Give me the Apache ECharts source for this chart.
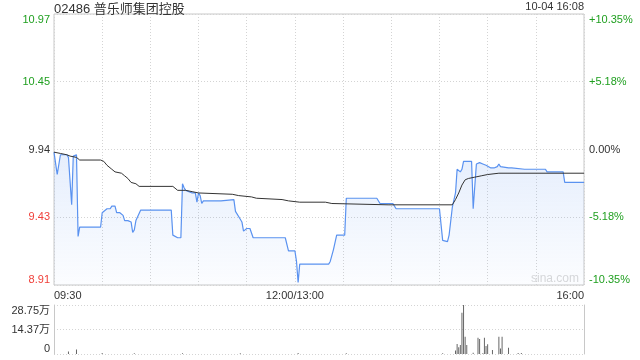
<!DOCTYPE html>
<html><head><meta charset="utf-8">
<script src="https://cdn.jsdelivr.net/npm/echarts@6/dist/echarts.min.js"></script>
<style>html,body{margin:0;padding:0;background:#fff}#c{width:640px;height:360px}</style>
</head><body><div id="c"></div>
<script>
const titleText = '02486 普乐师集团控股';
const dateText = '10-04 16:08';
const watermarkText = 'sina.com';
const prevClose = 9.94;
const pctRange = 10.35;
const priceTickLabels = ['8.91', '9.43', '9.94', '10.45', '10.97'];
const pctTickLabels = ['-10.35%', '-5.18%', '0.00%', '+5.18%', '+10.35%'];
const volTickLabels = ['0', '14.37万', '28.75万'];
const volMax = 287500;
const timeTickMinutes = [0, 150, 330];
const timeTickLabels = ['09:30', '12:00/13:00', '16:00'];

// minutes since 09:30 (lunch break removed)
const priceMinutes = [0,1,2,3,4,8,9,10,11,12,13,14,15,16,29,30,31,33,35,36,38,39,41,43,44,46,48,49,50,51,52,54,73,74,77,79,80,81,82,84,86,88,89,90,91,92,93,104,105,112,113,114,116,117,118,120,122,123,124,141,142,144,145,146,150,151,152,153,171,172,174,176,181,182,201,203,211,213,240,242,243,245,246,247,248,250,251,252,253,254,255,260,261,262,263,265,267,268,269,270,272,274,275,276,277,278,283,285,293,306,307,317,318,330];
const priceValues = [9.92,9.91,9.75,9.75,9.90,9.90,9.88,9.88,9.52,9.89,9.90,9.90,9.28,9.35,9.35,9.46,9.47,9.49,9.49,9.51,9.51,9.46,9.46,9.44,9.40,9.40,9.39,9.31,9.33,9.40,9.41,9.48,9.48,9.29,9.27,9.27,9.68,9.65,9.63,9.62,9.61,9.61,9.54,9.61,9.59,9.53,9.55,9.55,9.56,9.56,9.47,9.46,9.41,9.39,9.32,9.34,9.34,9.35,9.27,9.27,9.26,9.27,9.26,9.17,9.17,9.09,8.93,9.07,9.07,9.09,9.18,9.29,9.29,9.57,9.57,9.53,9.53,9.49,9.49,9.25,9.24,9.24,9.29,9.30,9.50,9.61,9.79,9.78,9.77,9.79,9.85,9.85,9.49,9.49,9.83,9.84,9.83,9.83,9.82,9.81,9.80,9.80,9.81,9.81,9.83,9.81,9.80,9.80,9.79,9.79,9.77,9.77,9.69,9.69];
const avgMinutes = [0,4,8,10,14,16,29,31,33,36,38,42,44,46,48,51,53,74,77,82,86,90,111,115,123,126,142,146,153,169,173,208,248,250,252,254,256,258,262,266,270,277,330];
const avgValues = [9.92,9.91,9.90,9.89,9.88,9.86,9.86,9.85,9.82,9.79,9.77,9.76,9.74,9.72,9.69,9.68,9.66,9.66,9.63,9.63,9.62,9.61,9.60,9.59,9.58,9.57,9.56,9.55,9.54,9.54,9.53,9.52,9.52,9.56,9.61,9.67,9.71,9.72,9.73,9.74,9.75,9.76,9.76];
const volMinutes = [9,14,30,50,80,116,152,182,242,250,251,252,253,254,255,256,257,261,264,265,267,268,269,270,273,277,278,279,283,289,291];
const volValues = [14000,27000,6000,4000,5000,4000,6000,5000,5000,20000,59000,39000,53000,242000,287500,101000,53000,8000,96000,88000,5000,96000,47000,57000,23000,101000,33000,101000,37000,6000,6000];

const FONT = 'Arial, "Liberation Sans", "Noto Sans CJK SC", sans-serif';
const GREEN = '#1f9f1f', RED = '#f0403a', DARK = '#333';
const pMin = prevClose * (1 - pctRange / 100);
const pMax = prevClose * (1 + pctRange / 100);
const pInt = (pMax - pMin) / 4;
const colorByIdx = i => (i < 2 ? RED : (i === 2 ? DARK : GREEN));
const pIdx = v => Math.round((v - pMin) / pInt);
const qIdx = v => Math.round((v + pctRange) / (pctRange / 2));

const zip = (a, b) => a.map((m, i) => [m, b[i]]);
const chart = echarts.init(document.getElementById('c'), null, {renderer: 'canvas'});
const dotted = {show: true, lineStyle: {color: '#d4d4d4', type: [1, 2], width: 1}};

chart.setOption({
  animation: false,
  textStyle: {fontFamily: FONT},
  title: [
    {text: titleText, left: 54, top: 3, padding: 0, textStyle: {fontSize: 13, fontWeight: 'normal', color: DARK, fontFamily: FONT}},
    {text: dateText, right: 56, top: 1, padding: 0, textStyle: {fontSize: 11, fontWeight: 'normal', color: DARK, fontFamily: FONT}}
  ],
  graphic: [{type: 'text', left: 531, top: 273, style: {text: watermarkText, fill: '#d9d9d9', font: '12px ' + FONT}, z: 0}],
  grid: [
    {left: 54, right: 56, top: 14, height: 271, show: true, borderColor: '#c8c8c8', borderWidth: 1},
    {left: 54, right: 56, top: 305, height: 49}
  ],
  xAxis: [
    {type: 'value', gridIndex: 0, min: 0, max: 330, interval: 30,
     axisLine: {show: false}, axisTick: {show: false}, splitLine: dotted,
     axisLabel: {margin: 5, fontSize: 11, color: DARK, fontFamily: FONT, alignMinLabel: 'left', alignMaxLabel: 'right',
       formatter: v => { const i = timeTickMinutes.indexOf(v); return i >= 0 ? timeTickLabels[i] : ''; }}},
    {type: 'value', gridIndex: 1, min: 0, max: 330, interval: 30,
     axisLine: {show: false}, axisTick: {show: false}, splitLine: {show: false}, axisLabel: {show: false}}
  ],
  yAxis: [
    {type: 'value', gridIndex: 0, min: pMin, max: pMax, interval: pInt,
     axisLine: {show: false}, axisTick: {show: false}, splitLine: dotted,
     axisLabel: {margin: 4, fontSize: 11, fontFamily: FONT, verticalAlignMaxLabel: 'top', verticalAlignMinLabel: 'bottom',
       formatter: v => priceTickLabels[pIdx(v)] || '', color: v => colorByIdx(pIdx(v))}},
    {type: 'value', gridIndex: 0, position: 'right', min: -pctRange, max: pctRange, interval: pctRange / 2,
     axisLine: {show: false}, axisTick: {show: false}, splitLine: {show: false},
     axisLabel: {margin: 5, fontSize: 11, fontFamily: FONT, verticalAlignMaxLabel: 'top', verticalAlignMinLabel: 'bottom',
       formatter: v => pctTickLabels[qIdx(v)] || '', color: v => colorByIdx(qIdx(v))}},
    {type: 'value', gridIndex: 1, min: 0, max: volMax, interval: volMax / 2,
     axisLine: {show: true, lineStyle: {color: '#c8c8c8'}}, axisTick: {show: false}, splitLine: dotted,
     axisLabel: {margin: 4, fontSize: 11, color: DARK, fontFamily: FONT, verticalAlignMaxLabel: 'top', verticalAlignMinLabel: 'bottom',
       formatter: v => volTickLabels[Math.round(v / (volMax / 2))] || ''}},
    {type: 'value', gridIndex: 1, position: 'right', min: 0, max: volMax, interval: volMax / 2,
     axisLine: {show: true, lineStyle: {color: '#c8c8c8'}}, axisTick: {show: false}, splitLine: {show: false}, axisLabel: {show: false}}
  ],
  series: [
    {type: 'line', xAxisIndex: 0, yAxisIndex: 0, data: zip(priceMinutes, priceValues), showSymbol: false, z: 3,
     lineStyle: {color: '#5a92f0', width: 1.2},
     areaStyle: {color: new echarts.graphic.LinearGradient(0, 0, 0, 1, [
       {offset: 0, color: 'rgba(90,146,240,0.22)'}, {offset: 1, color: 'rgba(90,146,240,0.03)'}])}},
    {type: 'line', xAxisIndex: 0, yAxisIndex: 0, data: zip(avgMinutes, avgValues), showSymbol: false, z: 4,
     lineStyle: {color: '#333', width: 1}},
    {type: 'bar', xAxisIndex: 1, yAxisIndex: 2, data: zip(volMinutes, volValues), barWidth: 1,
     itemStyle: {color: '#666'}}
  ]
});
</script></body></html>
